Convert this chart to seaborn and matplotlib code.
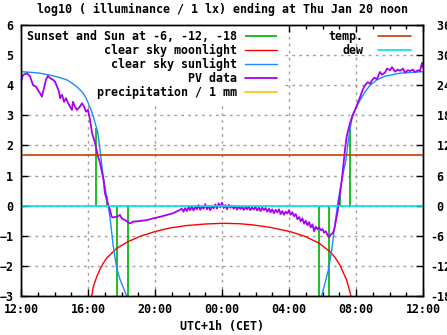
import numpy as np
import pandas as pd
import matplotlib
matplotlib.use("Agg")
import matplotlib.pyplot as plt
import seaborn as sns
from matplotlib.ticker import MultipleLocator

# ---------------- data ----------------
title = "log10 ( illuminance / 1 lx) ending at Thu Jan 20 noon"
x_label = "UTC+1h (CET)"
x_tick_hours = [0, 4, 8, 12, 16, 20, 24]
x_tick_labels = ["12:00", "16:00", "20:00", "00:00", "04:00", "08:00", "12:00"]
y_ticks = [-3, -2, -1, 0, 1, 2, 3, 4, 5, 6]
y2_ticks = [-18, -12, -6, 0, 6, 12, 18, 24, 30, 36]
y2_tick_labels = ["-18", "-12", "-6", " 0", " 6", " 12", " 18", " 24", " 30", " 36"]

# sunset / sun at -6, -12, -18 (evening) and -18, -12, -6, sunrise (morning)
event_hours = [4.50, 5.12, 5.75, 6.37, 17.81, 18.41, 19.04, 19.66]
event_tops = [2.58, 0.33, -3.5, -3.5, -3.5, -3.5, 0.33, 2.58]

moon_hours = [4.22, 4.32, 4.52, 4.72, 4.91, 5.12, 5.41, 5.71, 6.37, 7.10, 8.00,
              8.90, 9.89, 10.99, 12.04, 13.07, 13.85, 14.87, 16.06, 16.96,
              17.81, 18.45, 18.75, 19.04, 19.22, 19.44, 19.58, 19.70]
moon_log = [-3.0, -2.69, -2.36, -2.11, -1.91, -1.74, -1.58, -1.42, -1.20, -1.02, -0.86,
            -0.74, -0.66, -0.61, -0.585, -0.60, -0.64, -0.72, -0.86, -1.02,
            -1.25, -1.53, -1.72, -1.97, -2.20, -2.47, -2.75, -3.0]

sun_eve_hours = [0.00, 0.54, 1.13, 1.93, 2.33, 2.73, 3.04, 3.33, 3.52, 3.72, 3.88,
                 4.02, 4.18, 4.32, 4.42, 4.58, 4.72, 4.91, 5.21, 5.31, 5.51, 5.71,
                 5.91, 6.31, 6.39]
sun_eve_log = [4.45, 4.43, 4.40, 4.31, 4.25, 4.18, 4.07, 3.95, 3.85, 3.73, 3.58,
               3.40, 3.18, 2.96, 2.75, 2.45, 1.85, 0.96, -0.03, -0.37, -1.36, -2.07,
               -2.45, -3.0, -3.1]
sun_morn_hours = [17.85, 17.95, 18.35, 18.55, 18.75, 18.94, 19.15, 19.40, 19.54,
                  19.74, 19.94, 20.24, 20.54, 20.84, 21.25, 21.73, 22.63, 24.00]
sun_morn_log = [-3.1, -3.0, -2.14, -1.47, -0.58, 0.19, 0.85, 1.52, 2.18,
                2.85, 3.18, 3.50, 3.78, 4.00, 4.18, 4.30, 4.40, 4.45]

pv_hours = [0.00, 0.12, 0.36, 0.54, 0.72, 0.90, 1.01, 1.13, 1.25, 1.37, 1.49, 1.61,
            1.73, 1.91, 2.03, 2.15, 2.27, 2.33, 2.45, 2.57, 2.69, 2.81, 2.93, 3.04,
            3.10, 3.22, 3.34, 3.52, 3.64, 3.76, 3.88, 4.00, 4.12, 4.24, 4.42, 4.60,
            4.72, 4.84, 4.93, 5.01, 5.12, 5.21, 5.31, 5.41, 5.51, 5.71, 5.91, 6.01,
            6.21, 6.51, 6.70, 7.10, 7.50, 7.90, 8.30, 8.70, 9.09, 9.49,
            9.6, 9.7, 9.8, 9.9, 10.0, 10.1, 10.2, 10.3, 10.4, 10.5, 10.6, 10.7, 10.8,
            10.9, 11.0, 11.1, 11.2, 11.3, 11.4, 11.5, 11.6, 11.7, 11.8, 11.9, 12.0,
            12.1, 12.2, 12.3, 12.4, 12.5, 12.6, 12.7, 12.8, 12.9, 13.0, 13.1, 13.2,
            13.3, 13.4, 13.5, 13.6, 13.7, 13.8, 13.9, 14.0, 14.1, 14.2, 14.3, 14.4,
            14.5, 14.6, 14.7, 14.8, 14.9, 15.0, 15.1, 15.2, 15.3, 15.4, 15.5, 15.6,
            15.7, 15.8, 15.9, 16.0, 16.1, 16.2, 16.3, 16.4, 16.5, 16.6, 16.7, 16.8,
            16.9, 17.0, 17.1, 17.2, 17.3, 17.4, 17.5, 17.6, 17.7, 17.8, 17.9, 18.0,
            18.1, 18.2, 18.3, 18.4, 18.5, 18.6, 18.7, 18.8, 18.9, 19.0, 19.04, 19.15,
            19.24, 19.34, 19.44, 19.54, 19.64, 19.80, 19.94, 20.24, 20.40, 20.54,
            20.70, 20.85, 20.96, 21.10, 21.25, 21.43, 21.55, 21.73, 21.85, 22.03,
            22.15, 22.33, 22.50, 22.63, 22.80, 22.93, 23.10, 23.22, 23.40, 23.52,
            23.70, 23.82, 23.94, 24.00]
pv_log = [4.12, 4.34, 4.40, 4.29, 4.00, 3.95, 3.84, 3.74, 3.62, 3.90, 4.18, 4.31,
          4.24, 4.18, 4.12, 3.95, 3.79, 3.57, 3.68, 3.45, 3.57, 3.40, 3.29, 3.18,
          3.45, 3.29, 3.18, 3.29, 3.40, 3.29, 3.12, 3.18, 2.85, 2.42, 2.08, 1.63,
          1.42, 1.09, 0.85, 0.42, 0.19, 0.02, -0.14, -0.37, -0.39, -0.37, -0.31, -0.42,
          -0.48, -0.59, -0.53, -0.51, -0.48, -0.42, -0.37, -0.31, -0.25, -0.14,
          -0.10, -0.20, -0.08, -0.18, -0.05, -0.15, -0.02, -0.16, -0.04, -0.12, 0.02,
          -0.14, -0.03, -0.10, 0.05, -0.12, -0.02, -0.15, 0.00, -0.09, 0.04, -0.10,
          0.08, -0.06, 0.10, -0.08, 0.02, -0.12, 0.03, -0.07, 0.00, -0.10, -0.02,
          -0.13, -0.03, -0.11, -0.04, -0.14, -0.05, -0.12, -0.03, -0.15, -0.06,
          -0.13, -0.04, -0.16, -0.07, -0.18, -0.06, -0.15, -0.08, -0.20, -0.10,
          -0.22, -0.12, -0.25, -0.14, -0.22, -0.12, -0.28, -0.18, -0.30, -0.20,
          -0.26, -0.15, -0.30, -0.22, -0.35, -0.28, -0.45, -0.38, -0.52, -0.42,
          -0.60, -0.50, -0.65, -0.55, -0.72, -0.62, -0.85, -0.70, -0.78, -0.72,
          -0.82, -0.78, -0.90, -0.85, -0.98, -1.05, -0.95, -0.92, -0.80, -0.50,
          -0.20, 0.19, 0.36, 0.85, 1.30, 1.85, 2.29, 2.51, 2.74, 3.01, 3.18, 3.60,
          3.85, 4.00, 4.10, 4.05, 4.17, 4.25, 4.20, 4.44, 4.35, 4.42, 4.55, 4.50,
          4.60, 4.45, 4.52, 4.48, 4.55, 4.42, 4.50, 4.47, 4.52, 4.43, 4.50, 4.47,
          4.74, 4.60]

temp_hours = [0.0, 24.0]
temp_c = [10.0, 10.0]
dew_hours = [0.0, 24.0]
dew_c = [0.0, 0.0]

labels_left = ["Sunset and Sun at -6, -12, -18", "clear sky moonlight",
               "clear sky sunlight", "PV data", "precipitation / 1 mm"]
labels_right = ["temp.", "dew"]

c_green = "#00b000"
c_moon = "#ff0000"
c_sun = "#1a8cff"
c_pv = "#a800f0"
c_precip = "#ffc000"
c_temp = "#c04000"
c_dew = "#00e0e0"

FS = 8.4

# ---------------- style ----------------
sns.set_theme(style="white")
plt.rcParams['font.family'] = ['DejaVu Sans Mono']
plt.rcParams['font.weight'] = 'bold'
plt.rcParams['font.size'] = FS
plt.rcParams['xtick.labelsize'] = FS
plt.rcParams['ytick.labelsize'] = FS
plt.rcParams['axes.labelsize'] = FS
plt.rcParams['axes.titlesize'] = FS
plt.rcParams['legend.fontsize'] = FS
plt.rcParams['axes.labelweight'] = 'bold'
plt.rcParams['axes.titleweight'] = 'bold'
plt.rcParams['axes.edgecolor'] = 'black'
plt.rcParams['axes.linewidth'] = 1.0
plt.rcParams['text.color'] = 'black'
plt.rcParams['axes.labelcolor'] = 'black'
plt.rcParams['xtick.color'] = 'black'
plt.rcParams['ytick.color'] = 'black'

fig = plt.figure(figsize=(4.47, 3.35), dpi=100)
ax = fig.add_axes([21 / 447, 1 - 296 / 335, 402 / 447, 271 / 335])

# green event lines
h_green = ax.vlines(event_hours, 0, event_tops, colors=c_green, lw=1.2)

sns.lineplot(x=moon_hours, y=moon_log, ax=ax, color=c_moon, lw=1.0,
             estimator=None, sort=False)
sns.lineplot(x=sun_eve_hours, y=sun_eve_log, ax=ax, color=c_sun, lw=1.0,
             estimator=None, sort=False)
sns.lineplot(x=sun_morn_hours, y=sun_morn_log, ax=ax, color=c_sun, lw=1.0,
             estimator=None, sort=False)
sns.lineplot(x=pv_hours, y=pv_log, ax=ax, color=c_pv, lw=1.3,
             estimator=None, sort=False)

lines = ax.get_lines()
h_moon, h_sun, h_pv = lines[0], lines[1], lines[3]
h_precip, = ax.plot([], [], color=c_precip, lw=1.2)

ax.set_xlim(0, 24)
ax.set_ylim(-3, 6)
ax.set_xticks(x_tick_hours)
ax.set_xticklabels(x_tick_labels)
ax.set_yticks(y_ticks)
ax.xaxis.set_minor_locator(MultipleLocator(1))
ax.tick_params(axis='x', which='major', direction='in', length=5, width=1,
               top=True, bottom=True, pad=5)
ax.tick_params(axis='x', which='minor', direction='in', length=3, width=1,
               top=True, bottom=True)
ax.tick_params(axis='y', which='major', direction='in', length=5, width=1,
               left=True, right=False, pad=5.5)
ax.grid(True, which='major', color='#a0a0a0', linestyle=(0, (2, 3)), lw=1)
ax.set_axisbelow(True)
ax.set_xlabel(x_label, labelpad=3)
ax.set_ylabel("")
ax.set_title(title, pad=9)

ax2 = ax.twinx()
sns.lineplot(x=temp_hours, y=temp_c, ax=ax2, color=c_temp, lw=1.2,
             estimator=None, sort=False)
sns.lineplot(x=dew_hours, y=dew_c, ax=ax2, color=c_dew, lw=1.2,
             estimator=None, sort=False)
h_temp, h_dew = ax2.get_lines()[0], ax2.get_lines()[1]
ax2.set_ylim(-18, 36)
ax2.set_yticks(y2_ticks)
ax2.set_yticklabels(y2_tick_labels)
ax2.tick_params(axis='y', direction='in', length=5, width=1, pad=5)
ax2.set_ylabel("")
ax2.grid(False)
for s in ax2.spines.values():
    s.set_color('black')

leg1 = ax.legend([h_green, h_moon, h_sun, h_pv, h_precip], labels_left,
                 loc='upper right', bbox_to_anchor=(0.651, 1.0),
                 borderaxespad=0, borderpad=0.45, markerfirst=False,
                 handlelength=2.75, handletextpad=0.7, labelspacing=0.08,
                 frameon=True, fancybox=False, framealpha=1.0,
                 prop={'family': 'DejaVu Sans Mono', 'weight': 'bold', 'size': FS})
leg1.get_frame().set_edgecolor('none')
leg1.get_frame().set_facecolor('white')
leg1.set_zorder(1.5)

leg2 = ax2.legend([h_temp, h_dew], labels_right,
                  loc='upper right', bbox_to_anchor=(0.982, 1.0),
                  borderaxespad=0, borderpad=0.45, markerfirst=False,
                  handlelength=2.75, handletextpad=1.3, labelspacing=0.08,
                  frameon=False,
                  prop={'family': 'DejaVu Sans Mono', 'weight': 'bold', 'size': FS})

fig.savefig("out.png", dpi=100)
